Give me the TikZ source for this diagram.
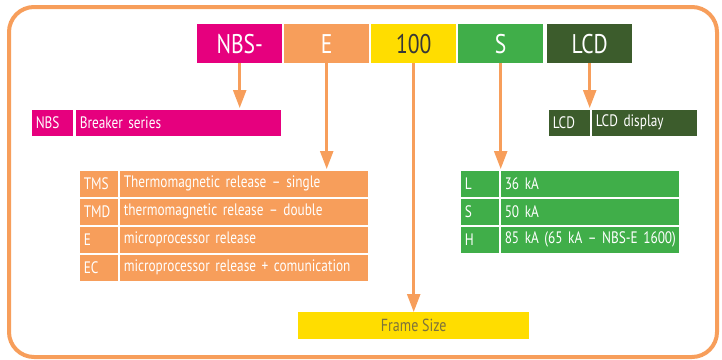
\documentclass[tikz,border=0pt]{standalone}
\usepackage{fontspec}
\setmainfont{PT Sans}[FakeStretch=0.8]
\usetikzlibrary{arrows.meta}
\definecolor{cmag}{RGB}{230,0,126}
\definecolor{corange}{RGB}{247,158,91}
\definecolor{cyellow}{RGB}{255,221,0}
\definecolor{cgreen}{RGB}{64,174,73}
\definecolor{cdgreen}{RGB}{60,92,44}
\definecolor{cdark}{RGB}{55,55,55}
\definecolor{cframe}{RGB}{125,115,60}
\newcommand\cellfnt{\fontsize{16.6}{16.6}\selectfont\spaceskip=3.4pt plus 1pt\relax}
\begin{document}
\begin{tikzpicture}[x=1pt,y=-1pt,
  topbox/.style={anchor=north west, minimum width=85pt, minimum height=39pt, inner sep=0pt, text=white, font=\fontsize{27}{27}\selectfont},
  cell/.style={anchor=north west, draw=white, line width=1.5pt, inner xsep=5pt, inner ysep=0pt, minimum height=28pt, text=white, align=left, font=\cellfnt},
  arr/.style={draw=corange, line width=2.5pt, -{Triangle[length=18pt,width=13pt]}},
  border/.style={draw=corange, line width=4pt, rounded corners=25pt}]
\useasboundingbox (0,0) rectangle (722,359);
\draw[border] (9,7) rectangle (717,357);
% top code boxes
\node[topbox, fill=cmag] (nbs) at (197,24) {NBS-};
\node[topbox, fill=corange] (e) at (284,24) {E};
\node[topbox, fill=cyellow, text=cdark] (hundred) at (371,24) {100};
\node[topbox, fill=cgreen] (s) at (458,24) {S};
\node[topbox, fill=cdgreen] (lcd) at (547,24) {LCD};
% NBS row
\node[cell, fill=cmag, text width=33pt] (nbsa) at (30,108) {NBS};
\node[cell, fill=cmag, text width=197pt] (nbsb) at (74,108) {Breaker series};
% release table
\node[cell, fill=corange, text width=30pt] (tms) at (78,169) {TMS};
\node[cell, fill=corange, text width=240pt] (tmsb) at (118,169) {Thermomagnetic release -- single};
\node[cell, fill=corange, text width=30pt] (tmd) at (78,197) {TMD};
\node[cell, fill=corange, text width=240pt] (tmdb) at (118,197) {thermomagnetic release -- double};
\node[cell, fill=corange, text width=30pt] (ee) at (78,225) {E};
\node[cell, fill=corange, text width=240pt] (eeb) at (118,225) {microprocessor release};
\node[cell, fill=corange, text width=30pt] (ec) at (78,253) {EC};
\node[cell, fill=corange, text width=240pt] (ecb) at (118,253) {microprocessor release + comunication};
% breaking capacity table
\node[cell, fill=cgreen, text width=30pt] (l) at (459,169) {L};
\node[cell, fill=cgreen, text width=170pt] (lb) at (499,169) {36 kA};
\node[cell, fill=cgreen, text width=30pt] (ss) at (459,197) {S};
\node[cell, fill=cgreen, text width=170pt] (ssb) at (499,197) {50 kA};
\node[cell, fill=cgreen, text width=30pt] (h) at (459,225) {H};
\node[cell, fill=cgreen, text width=170pt] (hb) at (499,225) {\mbox{85 kA (65 kA -- NBS-E 1600)}};
% LCD row
\node[cell, fill=cdgreen, text width=33pt] (lcda) at (547,108) {LCD};
\node[cell, fill=cdgreen, text width=97pt] (lcdb) at (590,108) {LCD display};
% frame size
\node[anchor=north west, fill=cyellow, minimum width=231pt, minimum height=27pt, inner sep=0pt, text=cframe, font=\fontsize{17.5}{17.5}\selectfont] (frame) at (298,312) {Frame Size};
% connectors
\draw[arr] (nbs.south) -- (nbs.south |- nbsb.north);
\draw[arr] (e.south) -- (e.south |- tmsb.north);
\draw[arr] (hundred.south) -- (frame.north);
\draw[arr] (s.south) -- (s.south |- lb.north);
\draw[arr] (lcd.south) -- (lcd.south |- lcdb.north);
\end{tikzpicture}
\end{document}
